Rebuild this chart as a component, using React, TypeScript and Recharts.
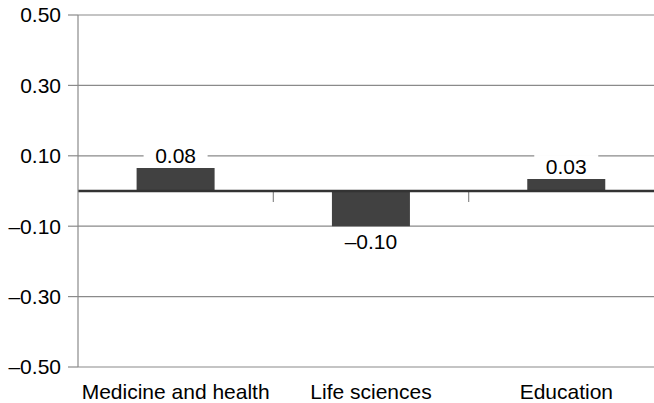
import { BarChart, Bar, XAxis, YAxis, CartesianGrid, ReferenceLine, LabelList } from 'recharts';

const categories = ['Medicine and health', 'Life sciences', 'Education'];
// bar heights as drawn, and the value labels as printed on the chart
const barValues = [0.065, -0.1, 0.034];
const valueLabels = ['0.08', '–0.10', '0.03'];
const yTicks = [0.5, 0.3, 0.1, -0.1, -0.3, -0.5];

const FONT = '"Liberation Sans", Arial, sans-serif';

const data = categories.map((name, i) => ({ name, value: barValues[i], label: valueLabels[i] }));

const fmtY = (v: number) => (v < 0 ? `–${Math.abs(v).toFixed(2)}` : v.toFixed(2));

const renderLabel = (props: any) => {
  const { x, y, width, height, index } = props;
  const top = Math.min(y, y + height);
  const bottom = Math.max(y, y + height);
  const neg = barValues[index] < 0;
  const cx = x + width / 2;
  const baseline = neg ? bottom + 23 : top - 5;
  return (
    <g>
      <rect x={cx - 32} y={baseline - 19} width={64} height={23} fill="#fff" />
      <text x={cx} y={baseline} textAnchor="middle" fontSize={21} fontFamily={FONT} fill="#000">
        {valueLabels[index]}
      </text>
    </g>
  );
};

// zero line, with small tick marks at the borders between categories
const ZeroLine = (props: any) => {
  const { x1, y1, x2, y2 } = props;
  const step = (x2 - x1) / categories.length;
  return (
    <g>
      {categories.slice(1).map((c, i) => {
        const tx = x1 + step * (i + 1);
        return <line key={c} x1={tx} x2={tx} y1={y1} y2={y1 + 11} stroke="#8a8a8a" strokeWidth={1.2} />;
      })}
      <line x1={x1} y1={y1} x2={x2} y2={y2} stroke="#333" strokeWidth={2.5} />
    </g>
  );
};

export default function App() {
  return (
    <div style={{ position: 'absolute', left: 0, top: 0, width: 654, height: 403, overflow: 'hidden', background: '#fff' }}>
      <BarChart
        width={670}
        height={403}
        data={data}
        margin={{ top: 15, right: 6, bottom: 0, left: 0 }}
        barCategoryGap="30%"
      >
        <CartesianGrid vertical={false} stroke="#8a8a8a" strokeWidth={1.2} />
        <XAxis
          dataKey="name"
          axisLine={false}
          tickLine={false}
          height={36}
          tickSize={6}
          tickMargin={11}
          tick={{ fill: '#000', fontSize: 21, fontFamily: FONT }}
          interval={0}
        />
        <YAxis
          domain={[-0.5, 0.5]}
          ticks={yTicks}
          width={78}
          tickSize={10}
          tickMargin={7}
          axisLine={{ stroke: '#8a8a8a', strokeWidth: 1.2 }}
          tickLine={{ stroke: '#8a8a8a', strokeWidth: 1.2 }}
          tickFormatter={fmtY}
          tick={{ fill: '#000', fontSize: 21, fontFamily: FONT }}
        />
        <Bar dataKey="value" fill="#414141" isAnimationActive={false}>
          <LabelList dataKey="label" content={renderLabel} />
        </Bar>
        <ReferenceLine y={0} shape={ZeroLine} />
      </BarChart>
    </div>
  );
}
